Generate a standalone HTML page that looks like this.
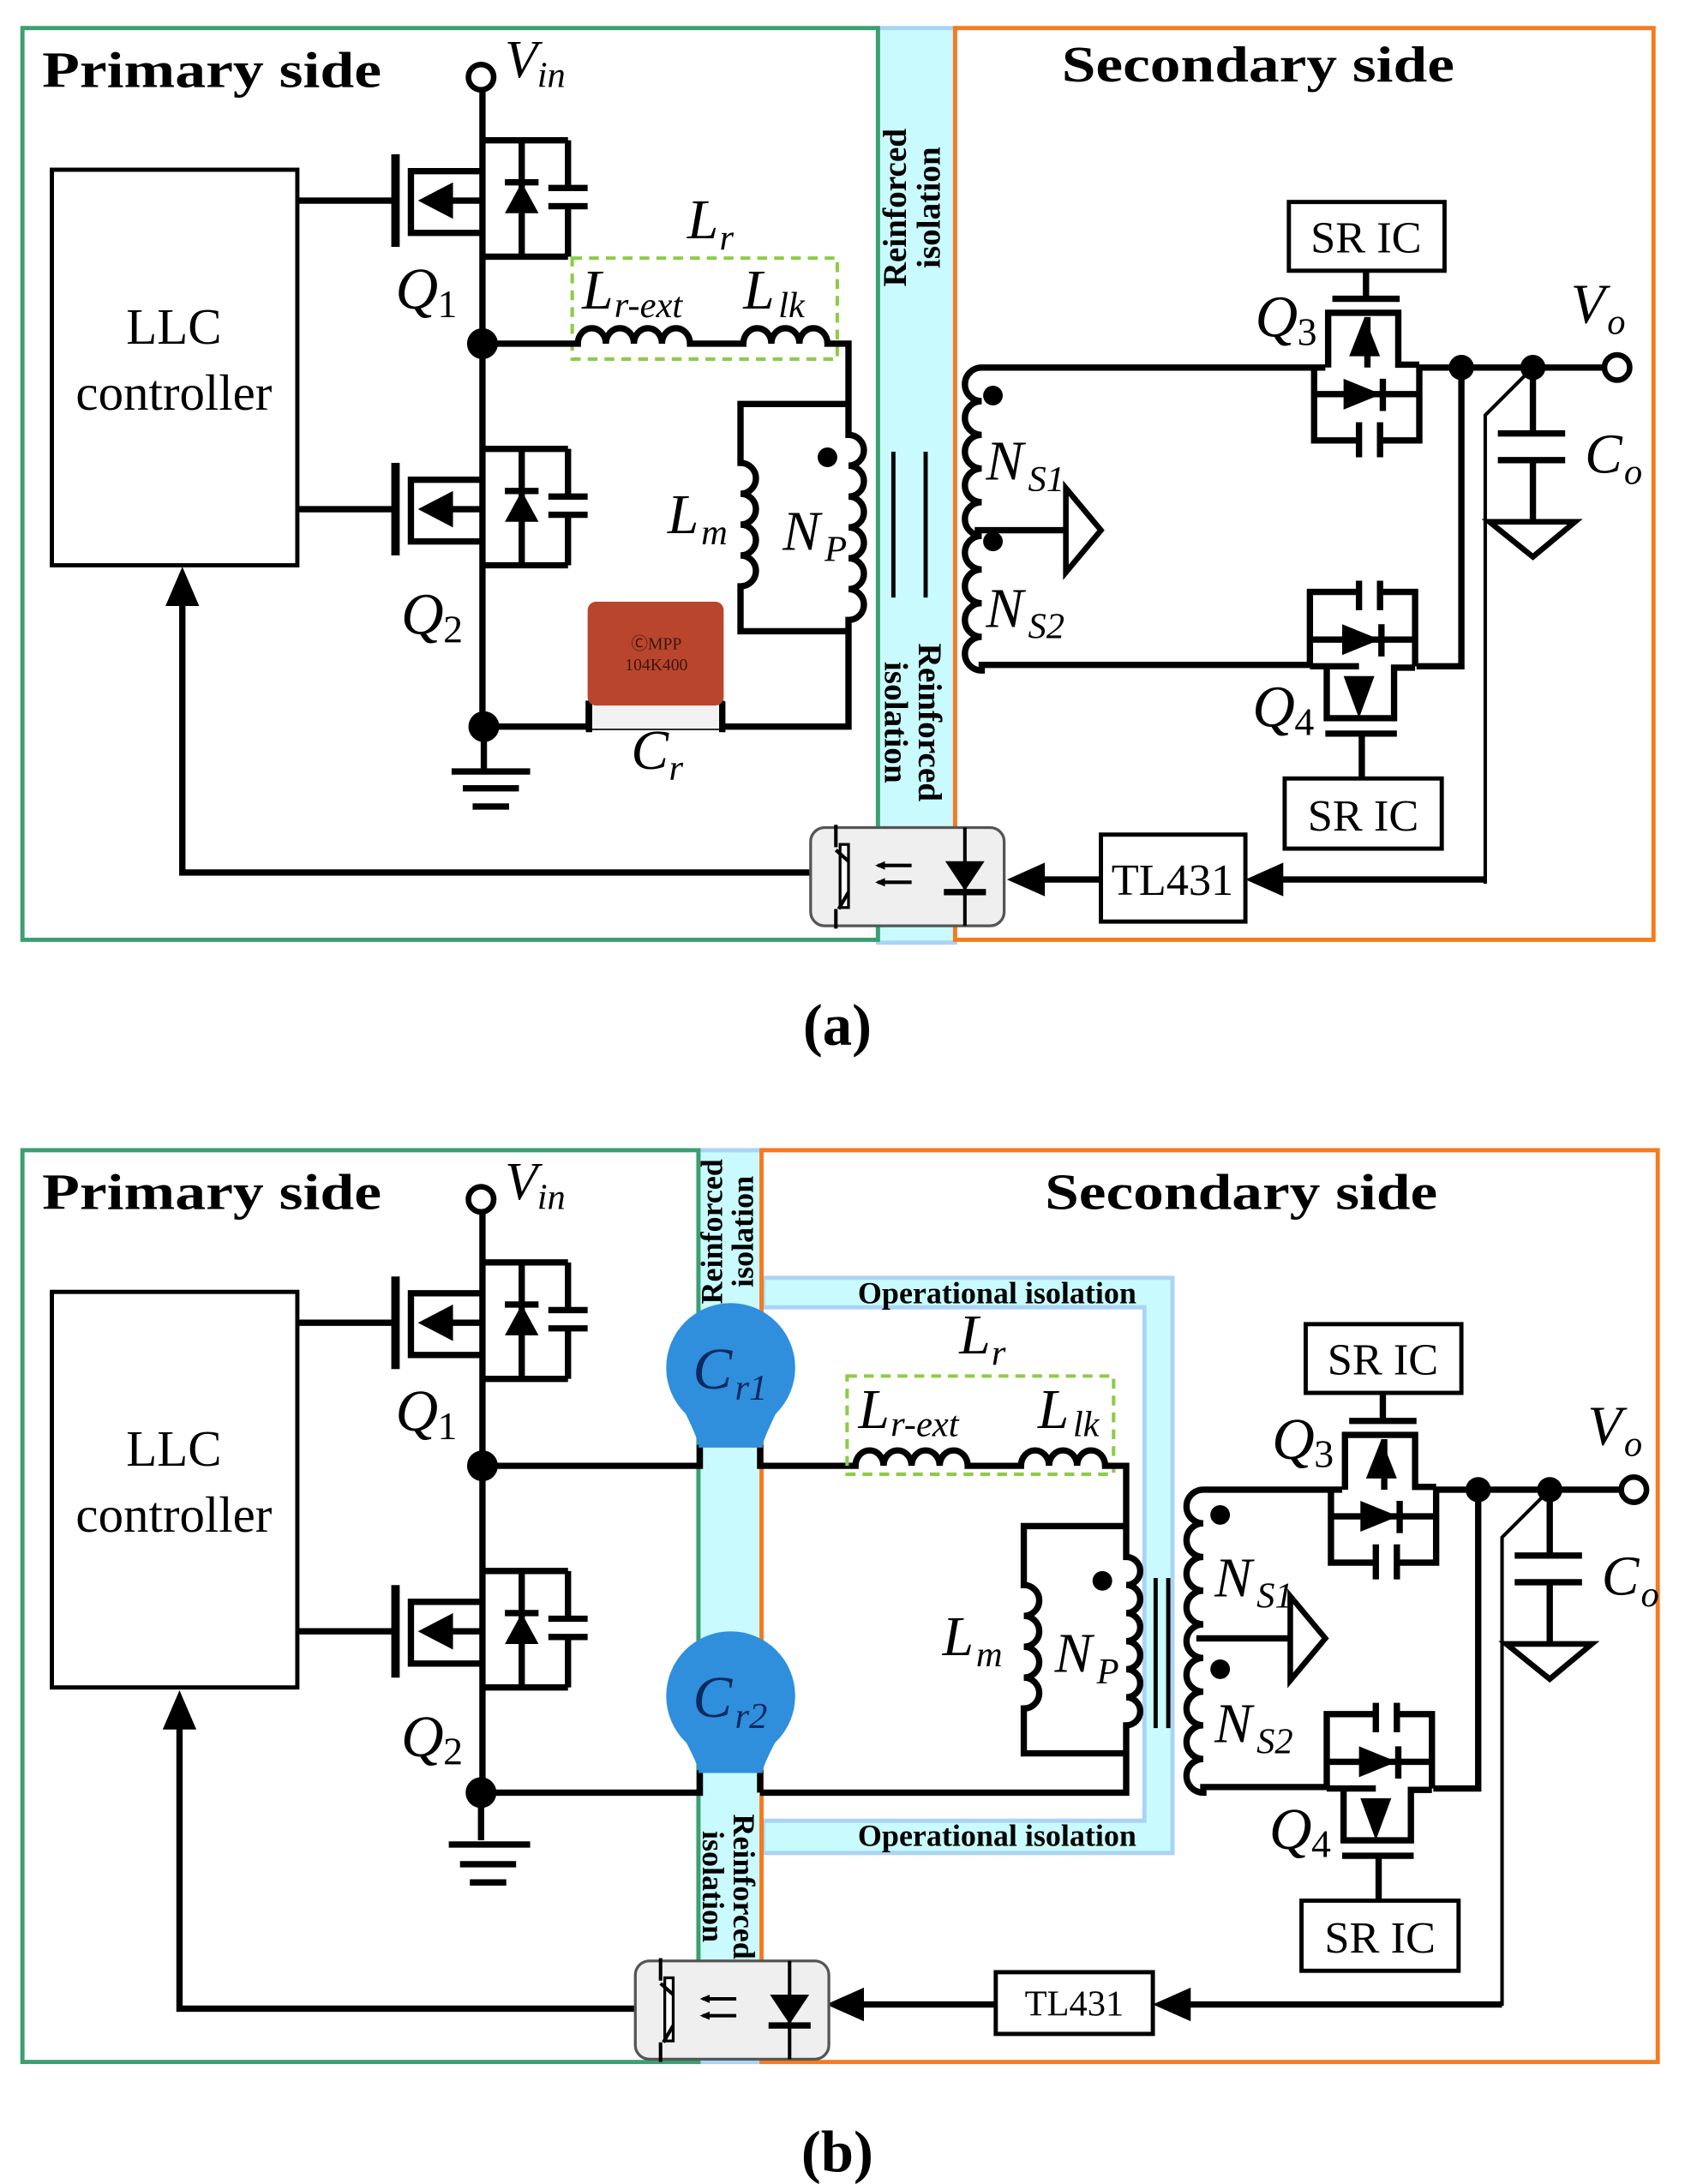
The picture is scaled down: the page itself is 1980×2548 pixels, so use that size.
<!DOCTYPE html>
<html><head><meta charset="utf-8"><style>
html,body{margin:0;padding:0;background:#fff}
svg{display:block}
text{font-family:"Liberation Serif",serif}
.w{fill:none;stroke:#000;stroke-width:4.5;stroke-linejoin:miter}
.t{fill:none;stroke:#000;stroke-width:2.5}
.i{font-style:italic}
</style></head><body>
<svg width="1980" height="2548" viewBox="0 0 1210 1557" preserveAspectRatio="none" xmlns="http://www.w3.org/2000/svg">
<defs>
<g id="pm">
 <path class="w" d="M0,22 H-50 V66 H0 M-131,43 H-61 M-40,43 H0 M0,0 H62 M0,83 H62 M29,0 V83 M17,30 H41 M62,0 V34 M62,47 V83 M48,34 H76 M48,47 H76"/>
 <path d="M-61,10 V76" stroke="#000" stroke-width="6"/>
 <polygon points="-45,43 -20,30 -20,56"/>
 <polygon points="29,30 17,52 41,52"/>
</g>
<g id="prim">
 <circle cx="343" cy="55" r="9" fill="#fff" stroke="#000" stroke-width="4"/>
 <text x="360" y="55" font-size="38" class="i">V</text><text x="383" y="62" font-size="26" class="i">in</text>
 <use href="#pm" x="343" y="100"/>
 <use href="#pm" x="343" y="320"/>
 <rect x="37" y="121" width="175" height="282" fill="#fff" stroke="#000" stroke-width="3"/>
 <text x="124" y="245" font-size="36" text-anchor="middle">LLC</text>
 <text x="124" y="292" font-size="36" text-anchor="middle">controller</text>
 <text x="282" y="220" font-size="42" class="i">Q</text><text x="312" y="226" font-size="28">1</text>
 <text x="286" y="452" font-size="42" class="i">Q</text><text x="316" y="458" font-size="28">2</text>
 <circle cx="344" cy="245" r="11"/>
 <text x="30" y="62" font-size="36" font-weight="bold" textLength="242" lengthAdjust="spacingAndGlyphs">Primary side</text>
</g>
<g id="sec">
 <rect x="919" y="144" width="111" height="49" fill="#fff" stroke="#000" stroke-width="3"/>
 <text x="974" y="180" font-size="32" text-anchor="middle">SR IC</text>
 <path class="w" d="M974,193 V213 M950,213 H998 M947,262 V223 H997 V260 H1012 M937,262 V314 H967 M986,314 H1012 V260 M937,281 H1012 M969,301 V326 M984,301 V326 M975,226 V262 M1012,262 H1143"/>
 <polygon points="973,226 962,254 984,254"/>
 <polygon points="985,281 958,270 958,292"/><path class="w" d="M986,270 V293"/>
 <circle cx="1042" cy="262" r="9"/><circle cx="1093" cy="262" r="9"/>
 <circle cx="1153" cy="262" r="9" fill="#fff" stroke="#000" stroke-width="4"/>
 <path class="w" d="M1093,262 V309 M1068,309 H1116 M1068,328 H1116 M1093,328 V372 M1042,262 V475 H1010"/>
 <polygon points="1062,372 1123,372 1093,397" fill="#fff" stroke="#000" stroke-width="4"/>
 <path class="t" d="M1093,262 L1059,296 V630" stroke-width="3"/>
 <path class="w" d="M969,414 V435 M984,414 V435 M934,475 V422 H967 M986,422 H1009 V475 M934,456 H1009 M934,475 H969 M946,475 V512 H994 V476 H1009 M945,523 H996 M971,523 V556"/>
 <polygon points="984,456 957,445 957,467"/><path class="w" d="M985,445 V468"/>
 <polygon points="969,512 958,482 980,482"/>
 <rect x="916" y="555" width="112" height="50" fill="#fff" stroke="#000" stroke-width="3"/>
 <text x="972" y="592" font-size="32" text-anchor="middle">SR IC</text>
 <text x="895" y="240" font-size="42" class="i">Q</text><text x="925" y="246" font-size="28">3</text>
 <text x="893" y="518" font-size="42" class="i">Q</text><text x="923" y="524" font-size="28">4</text>
 <text x="1120" y="230" font-size="40" class="i">V</text><text x="1146" y="238" font-size="26" class="i">o</text>
 <text x="1130" y="337" font-size="40" class="i">C</text><text x="1158" y="345" font-size="26" class="i">o</text>
</g>
<g id="opto">
 <rect x="0" y="0" width="138" height="70" rx="10" fill="#efefef" stroke="#555" stroke-width="2"/>
 <rect x="21" y="12" width="6" height="45" fill="#fff" stroke="#000" stroke-width="2"/>
 <path class="t" d="M18,-2 V14 M27,24 L18,16 M27,46 L20,58 M18,58 V72" stroke-width="2"/>
 <path class="t" d="M48,27 H72 M48,39 H72" stroke-width="2"/>
 <polygon points="46,27 53,24 53,30"/><polygon points="46,39 53,36 53,42"/>
 <path class="t" d="M110,0 V70" stroke-width="2"/>
 <polygon points="96,24 124,24 110,45"/><path class="w" d="M95,46 H125"/>
</g>
</defs>

<!-- ================= (a) ================= -->
<rect x="626" y="20" width="55" height="652" fill="#c9fafd" stroke="#a9d4f5" stroke-width="3"/>
<rect x="16" y="20" width="610" height="650" fill="none" stroke="#3aa070" stroke-width="3"/>
<rect x="681" y="20" width="498" height="650" fill="none" stroke="#f57a20" stroke-width="3"/>
<use href="#prim"/>
<path class="w" d="M344,64 V520 M345,518 V548 M322,550 H378 M330,562 H370 M337,575 H363"/>
<circle cx="345" cy="518" r="11"/>
<text x="757" y="58" font-size="36" font-weight="bold" textLength="280" lengthAdjust="spacingAndGlyphs">Secondary side</text>
<text transform="translate(646,148) rotate(-90)" font-size="24" font-weight="bold" text-anchor="middle">Reinforced</text>
<text transform="translate(670,148) rotate(-90)" font-size="24" font-weight="bold" text-anchor="middle">isolation</text>
<text transform="translate(655,515) rotate(90)" font-size="24" font-weight="bold" text-anchor="middle">Reinforced</text>
<text transform="translate(631,515) rotate(90)" font-size="24" font-weight="bold" text-anchor="middle">isolation</text>
<rect x="408" y="184" width="189" height="72" fill="none" stroke="#8ccc48" stroke-width="2.5" stroke-dasharray="7,5"/>
<text x="490" y="170" font-size="40" class="i">L</text><text x="513" y="178" font-size="26" class="i">r</text>
<text x="415" y="220" font-size="40" class="i">L</text><text x="438" y="226" font-size="26" class="i">r-ext</text>
<text x="530" y="220" font-size="40" class="i">L</text><text x="555" y="226" font-size="26" class="i">lk</text>
<path class="w" d="M344,245 H412 a10,11 0 0 1 20,0 a10,11 0 0 1 20,0 a10,11 0 0 1 20,0 a10,11 0 0 1 20,0 H530 a10,11 0 0 1 20,0 a10,11 0 0 1 20,0 a10,11 0 0 1 20,0 H605 V310 a11,11 0 0 1 0,22 a11,11 0 0 1 0,22 a11,11 0 0 1 0,22 a11,11 0 0 1 0,22 a11,11 0 0 1 0,22 a11,11 0 0 1 0,22 V518 H515 M420,518 H345"/>
<path class="w" d="M605,288 H528 V330 a11,11 0 0 1 0,22 a11,11 0 0 1 0,22 a11,11 0 0 1 0,22 a11,11 0 0 1 0,22 V450 H605"/>
<circle cx="590" cy="326" r="7"/>
<text x="476" y="380" font-size="40" class="i">L</text><text x="500" y="388" font-size="26" class="i">m</text>
<text x="558" y="392" font-size="40" class="i">N</text><text x="588" y="400" font-size="26" class="i">P</text>
<path d="M637,322 V426 M660,322 V426" stroke="#000" stroke-width="3"/>
<rect x="418" y="500" width="98" height="20" fill="#f2f2f2" stroke="#000" stroke-width="1"/>
<path class="w" d="M420,500 V522 M515,500 V522"/>
<rect x="419" y="429" width="97" height="74" rx="6" fill="#b9452c"/>
<text x="468" y="463" font-size="12" text-anchor="middle" font-family="Liberation Sans" fill="#3a1510">ⒸMPP</text>
<text x="468" y="478" font-size="12" text-anchor="middle" font-family="Liberation Sans" fill="#3a1510">104K400</text>
<text x="450" y="548" font-size="40" class="i">C</text><text x="477" y="556" font-size="26" class="i">r</text>
<path class="w" d="M945,262 H700 a12,12 0 0 0 0,24 a12,12 0 0 0 0,24 a12,12 0 0 0 0,24 a12,12 0 0 0 0,24 a12,12 0 0 0 0,24 a12,12 0 0 0 0,24 a12,12 0 0 0 0,24 a12,12 0 0 0 0,24 a12,12 0 0 0 0,24 V474 H934 M695,378 H760"/>
<polygon points="760,348 785,378 760,408" fill="#fff" stroke="#000" stroke-width="4"/>
<circle cx="708" cy="282" r="7"/><circle cx="708" cy="386" r="7"/>
<text x="703" y="342" font-size="40" class="i">N</text><text x="733" y="350" font-size="26" class="i">S1</text>
<text x="703" y="447" font-size="40" class="i">N</text><text x="733" y="455" font-size="26" class="i">S2</text>
<use href="#sec"/>
<rect x="785" y="595" width="103" height="62" fill="#fff" stroke="#000" stroke-width="3"/>
<text x="836" y="638" font-size="32" text-anchor="middle">TL431</text>
<path class="w" d="M1059,627 H910 M785,627 H742 M578,622 H130 V430" />
<polygon points="888,627 915,615 915,639"/>
<polygon points="718,627 745,615 745,639"/>
<polygon points="130,404 118,432 142,432"/>
<use href="#opto" x="578" y="590"/>
<text x="597" y="745" font-size="42" font-weight="bold" text-anchor="middle">(a)</text>

<!-- ================= (b) ================= -->
<rect x="498" y="820" width="45" height="650" fill="#c9fafd" stroke="#a9d4f5" stroke-width="3"/>
<path d="M544,911 H836 V1321 H544 V1298 H816 V932 H544 Z" fill="#c9fafd" stroke="#a9d4f5" stroke-width="3"/>
<rect x="16" y="820" width="482" height="650" fill="none" stroke="#3aa070" stroke-width="3"/>
<rect x="543" y="820" width="639" height="650" fill="none" stroke="#f57a20" stroke-width="3"/>
<text x="711" y="929" font-size="22" font-weight="bold" text-anchor="middle">Operational isolation</text>
<text x="711" y="1316" font-size="22" font-weight="bold" text-anchor="middle">Operational isolation</text>
<text transform="translate(515,878) rotate(-90)" font-size="22" font-weight="bold" text-anchor="middle">Reinforced</text>
<text transform="translate(537,878) rotate(-90)" font-size="22" font-weight="bold" text-anchor="middle">isolation</text>
<text transform="translate(523,1345) rotate(90)" font-size="22" font-weight="bold" text-anchor="middle">Reinforced</text>
<text transform="translate(501,1345) rotate(90)" font-size="22" font-weight="bold" text-anchor="middle">isolation</text>
<use href="#prim" y="800"/>
<path class="w" d="M344,862 V1280 M343,1278 V1312 M320,1315 H378 M328,1329 H368 M335,1342 H361"/>
<circle cx="343" cy="1278" r="11"/>
<text x="745" y="862" font-size="36" font-weight="bold" textLength="280" lengthAdjust="spacingAndGlyphs">Secondary side</text>
<path class="w" d="M344,1045 H499 V1030 M542,1030 V1045 H606 M343,1278 H499 V1262 M542,1262 V1278"/>
<g fill="#2f8fdc">
 <circle cx="521" cy="975" r="46"/><path d="M485,1000 Q500,1030 498,1032 L544,1032 Q542,1030 557,1000 Z"/>
 <circle cx="521" cy="1209" r="46"/><path d="M485,1234 Q500,1262 498,1264 L544,1264 Q542,1262 557,1234 Z"/>
</g>
<text x="494" y="990" font-size="42" class="i" fill="#0a2a60">C</text><text x="524" y="998" font-size="26" class="i" fill="#0a2a60">r1</text>
<text x="494" y="1224" font-size="42" class="i" fill="#0a2a60">C</text><text x="524" y="1232" font-size="26" class="i" fill="#0a2a60">r2</text>
<rect x="604" y="981" width="190" height="70" fill="none" stroke="#8ccc48" stroke-width="2.5" stroke-dasharray="7,5"/>
<text x="684" y="965" font-size="40" class="i">L</text><text x="707" y="973" font-size="26" class="i">r</text>
<text x="612" y="1018" font-size="40" class="i">L</text><text x="635" y="1024" font-size="26" class="i">r-ext</text>
<text x="740" y="1018" font-size="40" class="i">L</text><text x="765" y="1024" font-size="26" class="i">lk</text>
<path class="w" d="M606,1045 H610 a10,11 0 0 1 20,0 a10,11 0 0 1 20,0 a10,11 0 0 1 20,0 a10,11 0 0 1 20,0 H728 a10,11 0 0 1 20,0 a10,11 0 0 1 20,0 a10,11 0 0 1 20,0 H803 V1110 a10,10 0 0 1 0,20 a10,10 0 0 1 0,20 a10,10 0 0 1 0,20 a10,10 0 0 1 0,20 a10,10 0 0 1 0,20 a10,10 0 0 1 0,20 V1278 H542"/>
<path class="w" d="M803,1088 H730 V1130 a11,11 0 0 1 0,22 a11,11 0 0 1 0,22 a11,11 0 0 1 0,22 a11,11 0 0 1 0,22 V1250 H803"/>
<circle cx="786" cy="1127" r="7"/>
<text x="672" y="1180" font-size="40" class="i">L</text><text x="696" y="1188" font-size="26" class="i">m</text>
<text x="752" y="1192" font-size="40" class="i">N</text><text x="782" y="1200" font-size="26" class="i">P</text>
<path d="M824,1125 V1232 M833,1125 V1232" stroke="#000" stroke-width="3"/>
<path class="w" d="M957,1062 H858 a12,12 0 0 0 0,24 a12,12 0 0 0 0,24 a12,12 0 0 0 0,24 a12,12 0 0 0 0,24 a12,12 0 0 0 0,24 a12,12 0 0 0 0,24 a12,12 0 0 0 0,24 a12,12 0 0 0 0,24 a12,12 0 0 0 0,24 V1274 H946 M853,1168 H920"/>
<polygon points="920,1138 945,1168 920,1198" fill="#fff" stroke="#000" stroke-width="4"/>
<circle cx="870" cy="1080" r="7"/><circle cx="870" cy="1190" r="7"/>
<text x="866" y="1138" font-size="40" class="i">N</text><text x="896" y="1146" font-size="26" class="i">S1</text>
<text x="866" y="1242" font-size="40" class="i">N</text><text x="896" y="1250" font-size="26" class="i">S2</text>
<use href="#sec" x="12" y="800"/>
<rect x="710" y="1406" width="112" height="44" fill="#fff" stroke="#000" stroke-width="3"/>
<text x="766" y="1437" font-size="26" text-anchor="middle">TL431</text>
<path class="w" d="M1071,1429 H848 M710,1429 H612 M453,1432 H128 V1232"/>
<polygon points="822,1429 849,1417 849,1441"/>
<polygon points="589,1429 616,1417 616,1441"/>
<polygon points="128,1205 116,1233 140,1233"/>
<use href="#opto" x="453" y="1398"/>
<text x="597" y="1548" font-size="42" font-weight="bold" text-anchor="middle">(b)</text>
</svg>
</body></html>
